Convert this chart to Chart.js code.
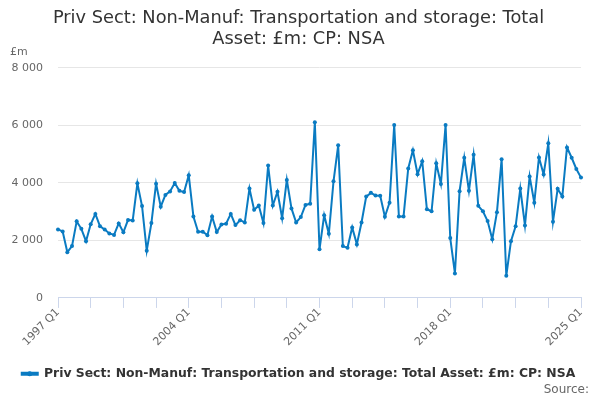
<!DOCTYPE html>
<html>
<head>
<meta charset="utf-8">
<script src="https://cdn.jsdelivr.net/npm/chart.js@4"></script>
<style>
html,body{margin:0;padding:0;background:#fff;}
#wrap{width:600px;height:400px;}
</style>
</head>
<body>
<div id="wrap"><canvas id="c" width="600" height="400"></canvas></div>
<script>
const titleLines = ["Priv Sect: Non-Manuf: Transportation and storage: Total", "Asset: £m: CP: NSA"];
const seriesName = "Priv Sect: Non-Manuf: Transportation and storage: Total Asset: £m: CP: NSA";
const unitLabel = "£m";
const sourceLabel = "Source:";
const startYear = 1997;
const endYear = 2025;

const categories = [];
for (let y = startYear; y <= endYear; y++) {
  for (let q = 1; q <= 4; q++) {
    if (y === endYear && q > 1) break;
    categories.push(y + " Q" + q);
  }
}

const values = [
  2380, 2310, 1590, 1800, 2660, 2400, 1970, 2560, 2920, 2490, 2380, 2240,
  2190, 2590, 2280, 2710, 2690, 3980, 3190, 1640, 2600, 3970, 3170, 3580,
  3700, 3990, 3720, 3680, 4260, 2830, 2300, 2300, 2180, 2830, 2290, 2550,
  2580, 2920, 2530, 2700, 2620, 3800, 3060, 3210, 2600, 4600, 3210, 3690,
  2770, 4100, 3110, 2620, 2810, 3230, 3270, 6100, 1690, 2870, 2230, 4050,
  5300, 1800, 1740, 2450, 1860, 2620, 3520, 3650, 3560, 3550, 2820, 3310,
  6010, 2830, 2830, 4500, 5130, 4300, 4750, 3080, 3010, 4680, 3960, 6010,
  2080, 850, 3710, 4870, 3720, 4970, 3200, 3010, 2670, 2040, 2980, 4820,
  770, 1970, 2490, 3800, 2520, 4220, 3310, 4880, 4290, 5370, 2650, 3790,
  3520, 5230, 4870, 4480, 4180
];

const yTicks = [0, 2000, 4000, 6000, 8000];
const labelEvery = 28;
const tickEvery = 7;

const lineColor = "#0a7bc2";
const fontFamily = "'DejaVu Sans', sans-serif";

function fmt(v) {
  return String(v).replace(/\B(?=(\d{3})+(?!\d))/g, " ");
}

const extras = {
  id: "extras",
  afterDraw(chart) {
    const ctx = chart.ctx;
    ctx.save();
    ctx.font = "11px " + fontFamily;
    ctx.fillStyle = "#666666";
    ctx.textAlign = "left";
    ctx.textBaseline = "middle";
    ctx.fillText(unitLabel, 10, 52);
    ctx.textAlign = "right";
    ctx.font = "12px " + fontFamily;
    ctx.fillText(sourceLabel, 589, 390);
    // legend marker dot
    const lg = chart.legend;
    if (lg && lg.legendHitBoxes && lg.legendHitBoxes.length) {
      const hb = lg.legendHitBoxes[0];
      const bw = lg.options.labels.boxWidth;
      ctx.fillStyle = lineColor;
      ctx.beginPath();
      ctx.arc(hb.left + bw / 2, hb.top + hb.height / 2, 2.5, 0, Math.PI * 2);
      ctx.fill();
    }
    ctx.restore();
  }
};

new Chart(document.getElementById("c"), {
  type: "line",
  data: {
    labels: categories,
    datasets: [{
      label: seriesName,
      data: values,
      borderColor: lineColor,
      backgroundColor: lineColor,
      borderWidth: 2,
      pointRadius: 2,
      pointHoverRadius: 3,
      pointBackgroundColor: lineColor,
      pointBorderWidth: 0,
      tension: 0
    }]
  },
  options: {
    responsive: false,
    animation: false,
    devicePixelRatio: 1,
    layout: { padding: { left: 11, right: 14, top: 4, bottom: 10 } },
    plugins: {
      title: {
        display: true,
        text: titleLines,
        color: "#333333",
        font: { family: fontFamily, size: 17.8, weight: "normal", lineHeight: 1.17 },
        padding: { top: 4, bottom: 18 }
      },
      legend: {
        position: "bottom",
        labels: {
          color: "#333333",
          font: { family: fontFamily, size: 12.4, weight: "bold" },
          boxWidth: 16,
          boxHeight: 2,
          padding: 8
        }
      },
      tooltip: { enabled: false }
    },
    scales: {
      x: {
        type: "category",
        offset: false,
        afterFit: (scale) => { scale.paddingLeft = 0; scale.paddingRight = 19; scale.height += 13; },
        grid: {
          display: true,
          drawOnChartArea: false,
          drawTicks: true,
          tickLength: 10,
          color: (c) => (c.index % tickEvery === 0 ? "#ccd6eb" : "rgba(0,0,0,0)")
        },
        border: { display: true, color: "#ccd6eb", width: 1 },
        ticks: {
          autoSkip: false,
          maxRotation: 45,
          minRotation: 45,
          color: "#666666",
          font: { family: fontFamily, size: 11 },
          padding: -2,
          callback: function (val, idx) {
            return idx % labelEvery === 0 ? categories[idx] : "";
          }
        }
      },
      y: {
        min: 0,
        max: 8000,
        afterBuildTicks: (scale) => { scale.ticks = yTicks.map(v => ({ value: v })); },
        afterFit: (scale) => { scale.width = 47; },
        grid: { color: "#e6e6e6", drawTicks: false, tickLength: 0 },
        border: { display: false },
        ticks: {
          color: "#666666",
          font: { family: fontFamily, size: 11 },
          padding: 15,
          callback: (v) => fmt(v)
        }
      }
    }
  },
  plugins: [extras]
});
</script>
</body>
</html>
